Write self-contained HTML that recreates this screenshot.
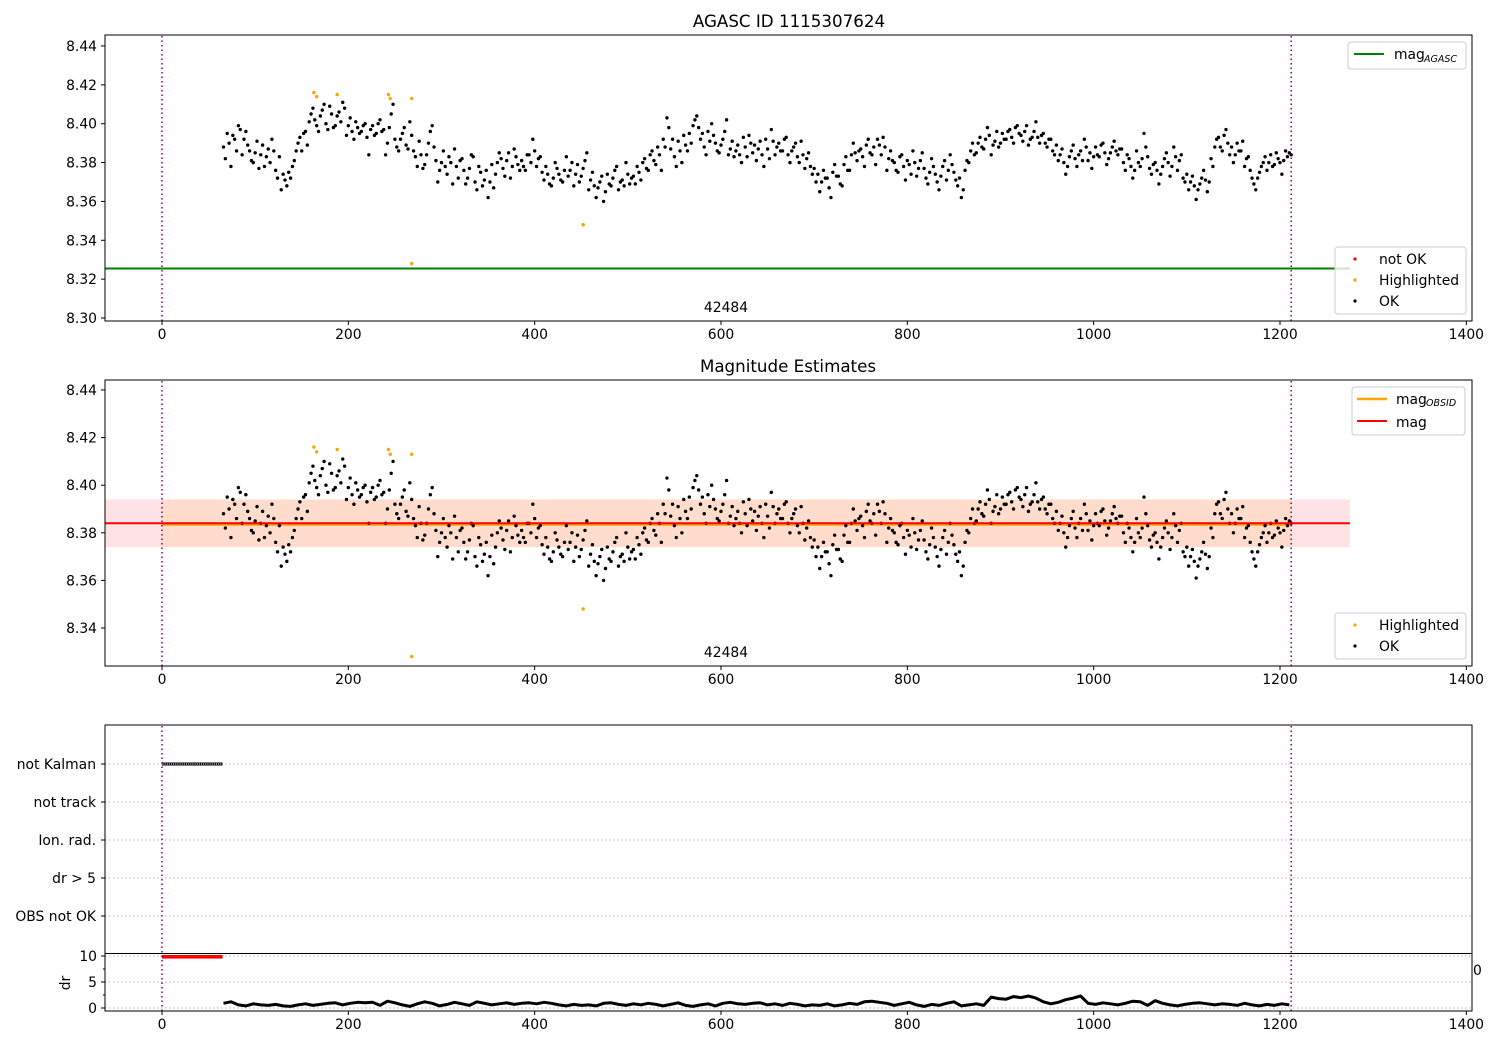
<!DOCTYPE html>
<html><head><meta charset="utf-8"><style>
body{margin:0;background:#fff}
svg{display:block;font-family:"DejaVu Sans","Liberation Sans",sans-serif}
</style></head><body>
<svg id="c" width="1500" height="1050" xmlns="http://www.w3.org/2000/svg"></svg>
<script>
const NS="http://www.w3.org/2000/svg";
const svg=document.getElementById('c');
// ---- data ----
const magStart=66, magStep=4;
const magValues=[
8.388,8.395,8.378,8.392,8.399,8.384,8.396,8.386,8.380,8.391,
8.384,8.378,8.387,8.392,8.376,8.383,8.374,8.368,8.372,8.381,
8.390,8.386,8.396,8.401,8.408,8.399,8.404,8.410,8.397,8.405,
8.399,8.406,8.411,8.394,8.403,8.392,8.398,8.396,8.400,8.384,
8.399,8.395,8.402,8.397,8.390,8.405,8.392,8.386,8.395,8.389,
8.401,8.386,8.378,8.384,8.379,8.390,8.399,8.381,8.376,8.386,
8.374,8.380,8.387,8.372,8.382,8.369,8.377,8.383,8.366,8.375,
8.371,8.362,8.379,8.374,8.385,8.377,8.381,8.372,8.387,8.379,
8.381,8.376,8.384,8.392,8.378,8.383,8.371,8.374,8.368,8.380,
8.374,8.370,8.383,8.376,8.368,8.379,8.373,8.381,8.366,8.375,
8.362,8.370,8.360,8.374,8.368,8.376,8.366,8.371,8.380,8.369,
8.373,8.378,8.371,8.382,8.376,8.386,8.379,8.384,8.392,8.403,
8.387,8.383,8.391,8.380,8.389,8.395,8.399,8.404,8.392,8.388,
8.396,8.400,8.390,8.385,8.392,8.402,8.387,8.383,8.389,8.380,
8.388,8.394,8.385,8.381,8.391,8.378,8.387,8.397,8.384,8.390,
8.386,8.393,8.380,8.388,8.383,8.391,8.377,8.385,8.374,8.370,
8.365,8.376,8.372,8.362,8.379,8.373,8.368,8.383,8.376,8.390,
8.381,8.387,8.378,8.392,8.384,8.379,8.389,8.393,8.376,8.386,
8.380,8.375,8.384,8.371,8.379,8.386,8.373,8.381,8.377,8.369,
8.382,8.374,8.366,8.378,8.371,8.384,8.375,8.368,8.362,8.376,
8.380,8.390,8.385,8.393,8.387,8.398,8.384,8.391,8.388,8.395,
8.392,8.397,8.390,8.399,8.394,8.396,8.389,8.393,8.401,8.390,
8.395,8.388,8.392,8.384,8.381,8.387,8.374,8.383,8.389,8.378,
8.386,8.392,8.381,8.377,8.388,8.383,8.390,8.379,8.385,8.391,
8.384,8.387,8.376,8.382,8.372,8.386,8.378,8.395,8.383,8.374,
8.380,8.369,8.378,8.385,8.373,8.388,8.376,8.384,8.370,8.366,
8.373,8.361,8.369,8.376,8.365,8.382,8.388,8.393,8.386,8.397,
8.384,8.380,8.390,8.386,8.378,8.383,8.372,8.366,8.375,8.380,
8.376,8.384,8.379,8.382,8.374,8.386,8.385];
const magStartB=68;
const magValuesB=[
8.382,8.390,8.394,8.386,8.397,8.392,8.389,8.381,8.385,8.377,
8.389,8.383,8.380,8.386,8.372,8.366,8.371,8.375,8.378,8.386,
8.393,8.395,8.389,8.405,8.402,8.396,8.407,8.400,8.409,8.398,
8.404,8.401,8.408,8.399,8.396,8.401,8.395,8.399,8.393,8.397,
8.394,8.400,8.396,8.384,8.398,8.410,8.388,8.392,8.398,8.387,
8.394,8.383,8.391,8.377,8.384,8.396,8.388,8.370,8.380,8.378,
8.383,8.369,8.378,8.381,8.376,8.372,8.384,8.370,8.378,8.368,
8.376,8.370,8.367,8.380,8.382,8.373,8.385,8.378,8.383,8.376,
8.378,8.384,8.380,8.386,8.382,8.375,8.378,8.369,8.372,8.377,
8.371,8.376,8.373,8.380,8.374,8.370,8.377,8.385,8.371,8.368,
8.367,8.373,8.365,8.369,8.372,8.378,8.370,8.368,8.374,8.372,
8.369,8.375,8.380,8.377,8.384,8.381,8.388,8.376,8.388,8.398,
8.392,8.378,8.386,8.394,8.386,8.390,8.402,8.398,8.395,8.384,
8.391,8.394,8.386,8.389,8.396,8.384,8.391,8.386,8.384,8.393,
8.383,8.390,8.389,8.387,8.384,8.392,8.382,8.391,8.388,8.386,
8.392,8.384,8.386,8.390,8.380,8.384,8.382,8.378,8.377,8.374,
8.370,8.372,8.367,8.375,8.373,8.369,8.379,8.376,8.384,8.385,
8.386,8.383,8.389,8.385,8.388,8.392,8.384,8.388,8.382,8.381,
8.376,8.383,8.378,8.381,8.374,8.380,8.377,8.385,8.372,8.375,
8.378,8.370,8.373,8.381,8.376,8.379,8.371,8.372,8.366,8.381,
8.386,8.384,8.390,8.388,8.392,8.394,8.389,8.396,8.390,8.392,
8.396,8.393,8.398,8.395,8.391,8.399,8.392,8.396,8.393,8.394,
8.390,8.392,8.386,8.389,8.384,8.380,8.378,8.386,8.382,8.384,
8.381,8.388,8.385,8.383,8.384,8.389,8.385,8.382,8.388,8.386,
8.387,8.380,8.384,8.378,8.376,8.380,8.382,8.388,8.377,8.379,
8.376,8.374,8.382,8.380,8.378,8.383,8.381,8.372,8.374,8.370,
8.368,8.366,8.372,8.371,8.370,8.378,8.392,8.388,8.394,8.390,
8.388,8.384,8.386,8.391,8.382,8.376,8.369,8.372,8.378,8.383,
8.380,8.378,8.385,8.380,8.381,8.383,8.384];
const hlX=[163,166,188,243,245,268,268,452];
const hlY=[8.416,8.414,8.415,8.415,8.413,8.413,8.328,8.348];
const magAgasc=8.3255;
const magMean=8.384, magLo=8.374, magHi=8.394;
const obsEnd=1212, bandEnd=1275;
const drStart=66, drStep=8;
const drValues=[
0.9,1.2,0.6,0.4,0.8,0.6,0.5,0.7,0.4,0.3,0.6,0.8,0.5,0.7,0.9,1.0,0.6,0.9,1.1,1.0,
1.1,0.5,1.3,1.0,0.6,0.3,0.8,1.2,0.9,0.4,0.7,1.1,0.8,0.5,1.2,0.9,0.6,0.8,1.0,0.7,
0.9,1.0,0.8,1.1,0.9,0.6,0.4,0.7,0.5,0.6,0.4,0.9,1.0,0.7,0.5,0.8,0.6,0.9,0.7,0.4,
0.7,1.0,0.5,0.3,0.6,0.8,0.4,0.9,1.1,0.8,0.7,0.9,1.0,0.6,0.8,0.5,0.9,0.7,0.4,0.6,
0.5,0.8,0.4,0.6,0.9,0.7,1.2,1.3,1.1,0.9,0.5,0.8,1.1,0.6,0.3,0.7,0.5,0.9,1.2,0.4,
0.6,0.8,0.5,2.1,1.8,1.7,2.2,2.0,2.3,1.9,1.2,0.8,1.1,1.6,1.9,2.3,0.9,0.7,1.0,0.8,
0.6,0.9,1.3,1.2,0.5,1.4,0.9,0.6,0.4,0.7,0.9,1.0,0.8,0.6,0.8,0.7,0.5,0.9,0.6,0.4,
0.7,0.5,0.8,0.6];
const flagNames=["not Kalman","not track","Ion. rad.","dr > 5","OBS not OK"];
const xTicks=[0,200,400,600,800,1000,1200,1400];
const magTicks1=[8.30,8.32,8.34,8.36,8.38,8.40,8.42,8.44];
const magTicks2=[8.34,8.36,8.38,8.40,8.42,8.44];
const drTicks=[0,5,10];
// ---- helpers ----
const FS=13.9;
function el(tag,attrs,parent){const e=document.createElementNS(NS,tag);for(const k in attrs)e.setAttribute(k,attrs[k]);(parent||svg).appendChild(e);return e;}
function txt(x,y,s,anchor,size,parent){const t=el('text',{x:x,y:y,'text-anchor':anchor||'middle','font-size':size||FS,fill:'#000'},parent);t.textContent=s;return t;}
const L=105,R=1472;
const X=v=>162+(v)*(1118/1200);
function linY(v0,p0,v1,p1){return v=>p0+(v-v0)*(p1-p0)/(v1-v0);}
const Y1=linY(8.44,46,8.30,318);
const Y2=linY(8.44,390,8.34,628);
const Ydr=linY(10,956,0,1008);
const flagY=i=>764+i*38;
function xAxis(yb,g,labels){
  xTicks.forEach(t=>{const px=X(t);el('line',{x1:px,x2:px,y1:yb,y2:yb+4,stroke:'#000'},g);
    if(labels){const tl=txt(px,yb+18,String(t),'middle',FS,g);}});
}
function frame(top,bot,g){el('rect',{x:L,y:top,width:R-L,height:bot-top,fill:'none',stroke:'#000','stroke-width':1},g);}
function vlines(top,bot,g){[0,obsEnd].forEach(v=>{const l=el('line',{x1:X(v),x2:X(v),y1:top,y2:bot,stroke:'#800080','stroke-width':1.5,'stroke-dasharray':'1.5,3'},g);
  });}
function yTicks(ticks,Y,g,fmt){ticks.forEach(t=>{const py=Y(t);el('line',{x1:L-4,x2:L,y1:py,y2:py,stroke:'#000'},g);
  const tl=txt(L-8,py+5,fmt(t),'end',FS,g);});}
function magPoints(Y,g){
  magValues.forEach((v,i)=>{const c=el('circle',{cx:X(magStart+i*magStep),cy:Y(v),r:1.7,fill:'#000'},g);
    });
  magValuesB.forEach((v,i)=>{const c=el('circle',{cx:X(magStartB+i*magStep),cy:Y(v),r:1.7,fill:'#000'},g);
    });
  hlX.forEach((x,i)=>{const c=el('circle',{cx:X(x),cy:Y(hlY[i]),r:1.7,fill:'orange'},g);
    });
}
// ---- panel 1 ----
const g1=el('g',{});

{const t=txt(789,27,'AGASC ID 1115307624','middle',16.7,g1);}
const ag=el('line',{x1:L,x2:X(bandEnd),y1:Y1(magAgasc),y2:Y1(magAgasc),stroke:'green','stroke-width':2},g1);

magPoints(Y1,g1);vlines(36,321,g1);
{const t=txt(726,312,'42484','middle',FS,g1);}
frame(35,321,g1);xAxis(321,g1,true);yTicks(magTicks1,Y1,g1,v=>v.toFixed(2));
{const lg=el('g',{},g1);
 el('rect',{x:1348,y:42,width:118,height:27,rx:3,fill:'#fff',stroke:'#ccc'},lg);
 el('line',{x1:1354,x2:1384,y1:54,y2:54,stroke:'green','stroke-width':2},lg);
 txt(1394,59,'mag','start',FS,lg);txt(1424,62,'AGASC','start',9.5,lg).setAttribute('font-style','italic');
 const lb=el('g',{},g1);
 el('rect',{x:1335,y:247,width:131,height:67,rx:3,fill:'#fff','fill-opacity':0.8,stroke:'#ccc'},lb);
 [['red','not OK'],['orange','Highlighted'],['#000','OK']].forEach((d,i)=>{el('circle',{cx:1355,cy:259+i*21,r:1.6,fill:d[0]},lb);txt(1379,264+i*21,d[1],'start',FS,lb);});}
// ---- panel 2 ----
const g2=el('g',{});

{const t=txt(788,372,'Magnitude Estimates','middle',16.7,g2);}
{const b=el('rect',{x:L,y:Y2(magHi),width:X(bandEnd)-L,height:Y2(magLo)-Y2(magHi),fill:'#ffe2e5'},g2);
 const b2=el('rect',{x:X(0),y:Y2(magHi),width:X(obsEnd)-X(0),height:Y2(magLo)-Y2(magHi),fill:'#ffdccb'},g2);}
{const o=el('line',{x1:X(0),x2:X(obsEnd),y1:Y2(magMean)+1.5,y2:Y2(magMean)+1.5,stroke:'orange','stroke-width':2},g2);}
magPoints(Y2,g2);
{const r=el('line',{x1:L,x2:X(bandEnd),y1:Y2(magMean),y2:Y2(magMean),stroke:'red','stroke-width':2},g2);}
vlines(381,666,g2);
{const t=txt(726,657,'42484','middle',FS,g2);}
frame(380,666,g2);xAxis(666,g2,true);yTicks(magTicks2,Y2,g2,v=>v.toFixed(2));
{const lg=el('g',{},g2);
 el('rect',{x:1352,y:387,width:113,height:48,rx:3,fill:'#fff',stroke:'#ccc'},lg);
 el('line',{x1:1357,x2:1387,y1:399,y2:399,stroke:'orange','stroke-width':2.5},lg);
 txt(1396,404,'mag','start',FS,lg);txt(1426,406,'OBSID','start',9.5,lg).setAttribute('font-style','italic');
 el('line',{x1:1357,x2:1387,y1:421,y2:421,stroke:'red','stroke-width':2},lg);
 txt(1396,427,'mag','start',FS,lg);
 const lb=el('g',{},g2);
 el('rect',{x:1335,y:613,width:131,height:46,rx:3,fill:'#fff','fill-opacity':0.8,stroke:'#ccc'},lb);
 [['orange','Highlighted'],['#000','OK']].forEach((d,i)=>{el('circle',{cx:1355,cy:625+i*21,r:1.6,fill:d[0]},lb);txt(1379,630+i*21,d[1],'start',FS,lb);});}
// ---- panel 3 flags ----
const g3=el('g',{});

flagNames.forEach((n,i)=>{const y=flagY(i);
  const gl=el('line',{x1:L,x2:R,y1:y,y2:y,stroke:'#b0b0b0','stroke-dasharray':'1.5,2.5'},g3);
  el('line',{x1:L-4,x2:L,y1:y,y2:y,stroke:'#000'},g3);
  const t=txt(L-9,y+5,n,'end',FS,g3);});
{const f=el('rect',{x:X(0),y:flagY(0)-1.5,width:X(65)-X(0),height:3,fill:'#000'},g3);
 for(let v=1;v<65;v+=2.3)el('circle',{cx:X(v),cy:flagY(0),r:0.6,fill:'#fff'},g3);}
txt(1473,975,'0','start',FS,g3);
// dr panel
const g4=el('g',{});

drTicks.forEach(t=>{el('line',{x1:L,x2:R,y1:Ydr(t),y2:Ydr(t),stroke:'#b0b0b0','stroke-dasharray':'1.5,2.5'},g4);});
yTicks(drTicks,Ydr,g4,v=>String(v));
[2.5,7.5].forEach(t=>el('line',{x1:L-2,x2:L,y1:Ydr(t),y2:Ydr(t),stroke:'#000'},g4));
{const t=txt(0,0,'dr','middle',FS,g4);t.setAttribute('transform','translate(70,983) rotate(-90)');}
{const r=el('rect',{x:X(0),y:Ydr(9.85)-1.8,width:X(65)-X(0),height:3.6,fill:'red'},g4);}
{let d='';drValues.forEach((v,i)=>{d+=(i?'L':'M')+X(drStart+i*drStep).toFixed(1)+','+Ydr(v).toFixed(1);});
 const p=el('path',{d:d,fill:'none',stroke:'#000','stroke-width':3,'stroke-linejoin':'round'},g4);}
vlines(726,1011,g4);
el('line',{x1:L,x2:R,y1:953.5,y2:953.5,stroke:'#000'},g4);
frame(725,1011,g4);xAxis(1011,g4,true);
</script>
</body></html>
